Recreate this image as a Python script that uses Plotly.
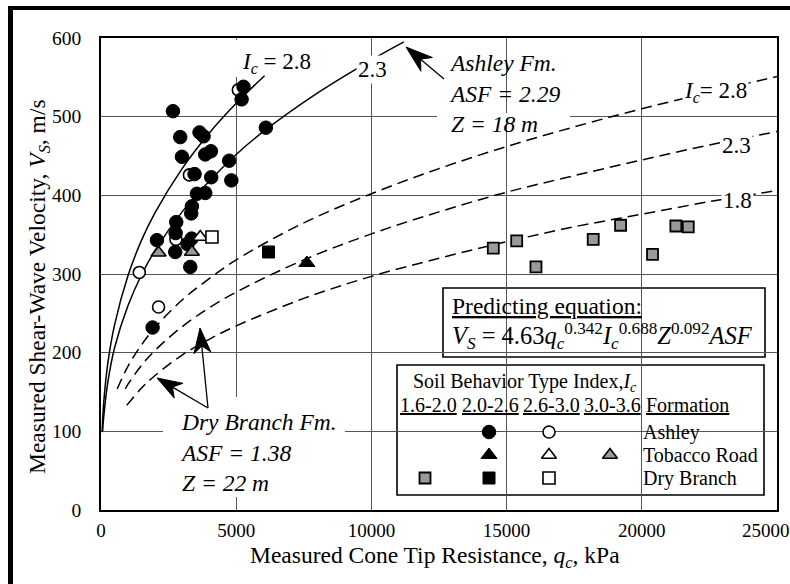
import math
import plotly.graph_objects as go

# ---------------- data ----------------
# Ashley formation
ashley_fill_q = [2661, 5270, 5200, 6097, 2930, 3644, 3793, 2993, 3855, 4066, 4741, 4820, 4077, 3460,
                 3548, 3855, 3362, 3337, 2783, 2760, 3350, 3200, 2069, 2746, 3301, 1908]
ashley_fill_v = [507, 538, 522, 486, 474, 480, 475, 449, 452, 456, 444, 419, 423, 427,
                 402, 403, 386, 377, 366, 352, 345, 338, 343, 328, 309, 232]
ashley_open_q = [5080, 3270, 2771, 1416, 2129]
ashley_open_v = [534, 426, 344, 302, 258]
# Tobacco Road formation
tobacco_fill_q = [7613]
tobacco_fill_v = [314]
tobacco_open_q = [3670]
tobacco_open_v = [347]
tobacco_gray_q = [2129, 3362]
tobacco_gray_v = [327, 328]
# Dry Branch formation
dry_fill_q = [6196]
dry_fill_v = [328]
dry_open_q = [4103]
dry_open_v = [347]
dry_gray_q = [14508, 15373, 16086, 18203, 19215, 20397, 21260, 21718]
dry_gray_v = [333, 342, 309, 344, 362, 325, 361, 360]

# Predicted curves
ash28_q = [40, 100, 250, 500, 1000, 1500, 2000, 3000, 4000, 5000, 6050]
ash28_v = [99, 136, 186, 235, 298, 343, 378, 434, 479, 517, 552]
ash23_q = [60, 100, 250, 500, 1000, 1500, 2000, 3000, 4000, 5000, 6000, 8000, 10000, 11200]
ash23_v = [100, 118, 162, 206, 260, 299, 330, 379, 418, 452, 481, 530, 572, 595]
db28_q = [600, 1000, 1500, 2000, 3000, 4000, 5000, 7500, 10000, 12500, 15000, 17500, 20000, 22500, 25000]
db28_v = [154, 183, 210, 232, 267, 294, 318, 365, 402, 434, 462, 487, 510, 531, 551]
db23_q = [900, 1000, 1500, 2000, 3000, 4000, 5000, 7500, 10000, 12500, 15000, 17500, 20000, 22500, 25000]
db23_v = [154, 160, 184, 203, 233, 257, 277, 318, 351, 379, 404, 425, 445, 464, 481]
db18_q = [950, 1500, 2000, 3000, 4000, 5000, 7500, 10000, 12500, 15000, 17500, 20000, 22500, 25000]
db18_v = [133, 155, 171, 197, 217, 234, 269, 297, 320, 341, 360, 376, 392, 406]

x_ticks = [0, 5000, 10000, 15000, 20000, 25000]
x_ticktext = ["0", "5000", "10000", "15000", "20000", ""]   # last label placed by hand (cut at edge)
x_last_label = "25000"
y_ticks = [0, 100, 200, 300, 400, 500, 600]

# ---------------- layout helpers ----------------
W, H = 790, 584
PL, PR, PT, PB = 101, 777, 38, 510
XMAX, YMAX = 25000, 600
FONT = "Liberation Serif, Times New Roman, serif"


def X(px):
    return (px - PL) / (PR - PL) * XMAX


def Y(py):
    return (PB - py) / (PB - PT) * YMAX


def PXp(px):
    return (px - PL) / (PR - PL)


def PYp(py):
    return (PB - py) / (PB - PT)


fig = go.Figure()

line_solid = dict(color="black", width=1.5, shape="spline")
line_dash = dict(color="black", width=1.5, dash="11px,6px", shape="spline")
for q, v in [(ash28_q, ash28_v), (ash23_q, ash23_v)]:
    fig.add_trace(go.Scatter(x=q, y=v, mode="lines", line=line_solid, hoverinfo="skip"))
for q, v in [(db28_q, db28_v), (db23_q, db23_v), (db18_q, db18_v)]:
    fig.add_trace(go.Scatter(x=q, y=v, mode="lines", line=line_dash, hoverinfo="skip"))

GRAY = "#9a9a9a"
styles = {
    "fill_circle": dict(symbol="circle", size=13.5, color="black", line=dict(color="black", width=1)),
    "open_circle": dict(symbol="circle", size=12, color="white", line=dict(color="black", width=1.6)),
    "fill_tri": dict(symbol="triangle-up", size=14, color="black", line=dict(color="black", width=1)),
    "open_tri": dict(symbol="triangle-up", size=13, color="white", line=dict(color="black", width=1.6)),
    "gray_tri": dict(symbol="triangle-up", size=13, color=GRAY, line=dict(color="black", width=1.6)),
    "fill_sq": dict(symbol="square", size=12, color="black", line=dict(color="black", width=1)),
    "open_sq": dict(symbol="square", size=12, color="white", line=dict(color="black", width=1.6)),
    "gray_sq": dict(symbol="square", size=11, color=GRAY, line=dict(color="black", width=1.8)),
}

series = [
    (ashley_open_q, ashley_open_v, "open_circle"),
    (ashley_fill_q, ashley_fill_v, "fill_circle"),
    (tobacco_fill_q, tobacco_fill_v, "fill_tri"),
    (tobacco_open_q, tobacco_open_v, "open_tri"),
    (tobacco_gray_q, tobacco_gray_v, "gray_tri"),
    (dry_fill_q, dry_fill_v, "fill_sq"),
    (dry_open_q, dry_open_v, "open_sq"),
    (dry_gray_q, dry_gray_v, "gray_sq"),
]
for q, v, st in series:
    fig.add_trace(go.Scatter(x=q, y=v, mode="markers", marker=styles[st], hoverinfo="skip"))

# legend symbols on a pixel-space overlay axis
leg_cols = [425, 489, 549, 610]
leg_rows = [432, 455, 478]
legend_items = [
    (1, 0, "fill_circle"), (2, 0, "open_circle"),
    (1, 1, "fill_tri"), (2, 1, "open_tri"), (3, 1, "gray_tri"),
    (0, 2, "gray_sq"), (1, 2, "fill_sq"), (2, 2, "open_sq"),
]
for c, r, st in legend_items:
    m = dict(styles[st])
    fig.add_trace(go.Scatter(x=[leg_cols[c]], y=[leg_rows[r]], xaxis="x2", yaxis="y2",
                             mode="markers", marker=m, hoverinfo="skip"))

shapes = []
# outer black frame (left and top)
shapes.append(dict(type="rect", xref="paper", yref="paper", x0=PXp(8), x1=PXp(13), y0=PYp(584), y1=PYp(6),
                   fillcolor="black", line=dict(width=0), layer="above"))
shapes.append(dict(type="rect", xref="paper", yref="paper", x0=PXp(8), x1=PXp(790), y0=PYp(10), y1=PYp(6),
                   fillcolor="black", line=dict(width=0), layer="above"))
# gaps in the grid behind text
for (x0, x1, y0, y1) in [(232, 240, 77, 40), (232, 240, 497, 397), (437, 570, 119, 113), (163, 345, 434, 428)]:
    shapes.append(dict(type="rect", xref="x", yref="y", x0=X(x0), x1=X(x1), y0=Y(y0), y1=Y(y1),
                       fillcolor="white", line=dict(width=0), layer="between"))
# equation box and legend box
for (x0, x1, y0, y1) in [(443, 765, 357, 288), (397, 764, 495, 365)]:
    shapes.append(dict(type="rect", xref="paper", yref="paper", x0=PXp(x0), x1=PXp(x1), y0=PYp(y0), y1=PYp(y1),
                       fillcolor="white", line=dict(color="black", width=1.6), layer="between"))


# barbed arrows drawn in the pixel-space overlay axes
def arrow(tip, tail, head=22, half=7, notch=7):
    dx, dy = tip[0] - tail[0], tip[1] - tail[1]
    ln = math.hypot(dx, dy)
    ux, uy = dx / ln, dy / ln
    nx, ny = -uy, ux
    bx, by = tip[0] - head * ux, tip[1] - head * uy
    p1 = (bx + half * nx, by + half * ny)
    p2 = (tip[0] - (head - notch) * ux, tip[1] - (head - notch) * uy)
    p3 = (bx - half * nx, by - half * ny)
    shapes.append(dict(type="line", xref="x2", yref="y2", x0=tail[0], y0=tail[1], x1=p2[0], y1=p2[1],
                       line=dict(color="black", width=1.3), layer="above"))
    path = "M{:.1f},{:.1f} L{:.1f},{:.1f} L{:.1f},{:.1f} L{:.1f},{:.1f} Z".format(
        tip[0], tip[1], p1[0], p1[1], p2[0], p2[1], p3[0], p3[1])
    shapes.append(dict(type="path", xref="x2", yref="y2", path=path, fillcolor="black",
                       line=dict(color="black", width=1), layer="above"))


arrow((406, 47), (444, 79), head=27, half=9, notch=8)
arrow((200, 328), (208, 408), head=25, half=8.5, notch=7)
arrow((157, 378), (208, 408), head=25, half=8.5, notch=7)

ann = []


def txt(s, px, py, size=21, xanchor="center", yanchor="middle", bg=None, align="left"):
    d = dict(text=s, x=X(px), y=Y(py), xref="x", yref="y", showarrow=False, xanchor=xanchor,
             yanchor=yanchor, align=align, font=dict(family=FONT, size=size, color="black"))
    if bg:
        d["bgcolor"] = bg
        d["borderpad"] = 1
    ann.append(d)


IC = "<i>I</i><sub><i>c</i></sub>"
txt(IC + " = 2.8", 276, 63, 23)
txt("2.3", 372, 69, 23, bg="white")
txt(IC + "= 2.8", 715, 92, 23, bg="white")
txt("2.3", 736, 145, 23, bg="white")
txt("1.8", 737, 200, 23, bg="white")
txt("<i>Ashley Fm.<br>ASF = 2.29<br>Z = 18 m</i>", 447, 93, 23.5, xanchor="left")
txt("<i>Dry Branch Fm.<br>ASF = 1.38<br>Z = 22 m</i>", 178, 452, 23.5, xanchor="left")

# equation box text
txt("<u>Predicting equation:</u>", 450, 306, 23.5, xanchor="left")
txt("<i>V</i><sub><i>S</i></sub> = 4.63<i>q</i><sub><i>c</i></sub><sup>0.342</sup>"
    "<i>I</i><sub><i>c</i></sub><sup>0.688</sup><i>Z</i><sup>0.092</sup><i>ASF</i>", 450, 336, 24.5, xanchor="left")

# legend box text
txt("Soil Behavior Type Index," + IC, 411, 382, 20, xanchor="left")
for lab, cx in zip(["1.6-2.0", "2.0-2.6", "2.6-3.0", "3.0-3.6"], [428, 490, 551, 612]):
    txt("<u>" + lab + "</u>", cx, 405, 20)
txt("<u>Formation</u>", 644, 405, 20, xanchor="left")
for lab, ry in zip(["Ashley", "Tobacco Road", "Dry Branch"], leg_rows):
    txt(lab, 641, ry, 20, xanchor="left")

# last x tick label, shifted left as in the original where it runs into the edge
ann.append(dict(text=x_last_label, xref="paper", yref="paper", x=PXp(766), y=PYp(518),
                showarrow=False, xanchor="center", yanchor="top",
                font=dict(family=FONT, size=19, color="black")))

# axis titles
ann.append(dict(text="Measured Cone Tip Resistance, <i>q</i><sub><i>c</i></sub>, kPa", xref="paper", yref="paper",
                x=PXp(435), y=PYp(557), showarrow=False, xanchor="center", yanchor="middle",
                font=dict(family=FONT, size=23.5, color="black")))
ann.append(dict(text="Measured Shear-Wave Velocity, <i>V</i><sub><i>S</i></sub>, m/s", xref="paper", yref="paper",
                x=PXp(39), y=PYp(287), showarrow=False, xanchor="center", yanchor="middle", textangle=-90,
                font=dict(family=FONT, size=23.5, color="black")))

fig.update_layout(
    width=W, height=H,
    margin=dict(l=PL, r=W - PR, t=PT, b=H - PB, pad=0, autoexpand=False),
    paper_bgcolor="white", plot_bgcolor="white",
    showlegend=False,
    font=dict(family=FONT, color="black"),
    xaxis=dict(range=[0, XMAX], tickvals=x_ticks, ticktext=x_ticktext,
               showgrid=True, gridcolor="#555555", gridwidth=1, zeroline=False, automargin=False,
               showline=True, linecolor="black", linewidth=1.6, mirror=True,
               ticks="", tickfont=dict(family=FONT, size=19, color="black"), ticklabelstandoff=2),
    yaxis=dict(range=[0, YMAX], tickvals=y_ticks, ticktext=[str(t) for t in y_ticks],
               showgrid=True, gridcolor="#555555", gridwidth=1, zeroline=False, automargin=False,
               showline=True, linecolor="black", linewidth=1.6, mirror=True,
               ticks="", tickfont=dict(family=FONT, size=19.5, color="black"), ticklabelstandoff=14),
    xaxis2=dict(range=[PL, PR], overlaying="x", visible=False, showgrid=False, automargin=False),
    yaxis2=dict(range=[PB, PT], overlaying="y", visible=False, showgrid=False, automargin=False),
    shapes=shapes,
    annotations=ann,
)

fig.write_html("out.html")
